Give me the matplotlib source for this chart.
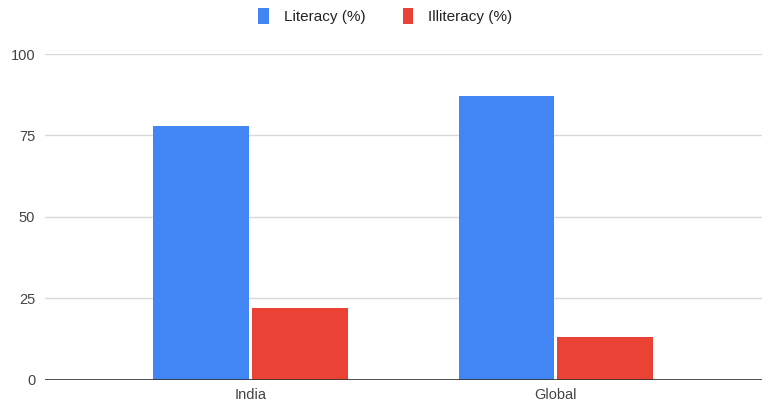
import numpy as np
import matplotlib.pyplot as plt

# data
regions = ["India", "Global"]
literacy = [78, 87]
illiteracy = [22, 13]
y_ticks = [0, 25, 50, 75, 100]

plt.rcParams['font.family'] = ['Liberation Sans', 'DejaVu Sans']

fig = plt.figure(figsize=(7.68, 4.07), dpi=100)
ax = fig.add_axes([0.0586, 0.0671, 0.9332, 0.8002])

x = np.arange(len(regions))
w = 0.314
gap = 0.005
ax.bar(x - w / 2 - gap, literacy, w, color="#4285F4", label="Literacy (%)", zorder=3)
ax.bar(x + w / 2 + gap, illiteracy, w, color="#EA4335", label="Illiteracy (%)", zorder=3)

ax.set_xlim(-0.674, 1.674)
ax.set_ylim(0, 100)
ax.set_yticks(y_ticks)
ax.set_xticks(x)
ax.set_xticklabels(regions)
ax.yaxis.grid(True, color="#d9d9d9", linewidth=1, zorder=0)
ax.axhline(0, color="#333333", linewidth=1.2, zorder=4)

for s in ax.spines.values():
    s.set_visible(False)
ax.tick_params(axis="both", length=0, labelsize=10.5, colors="#444444")
ax.tick_params(axis="y", pad=7)
ax.tick_params(axis="x", pad=6)

ax.legend(loc="lower center", bbox_to_anchor=(0.475, 1.05), ncol=2, frameon=False,
          fontsize=11, handlelength=0.7, handleheight=1.2, columnspacing=2.4,
          handletextpad=1.0, labelcolor="#222222")

fig.savefig("out.png", dpi=100)
